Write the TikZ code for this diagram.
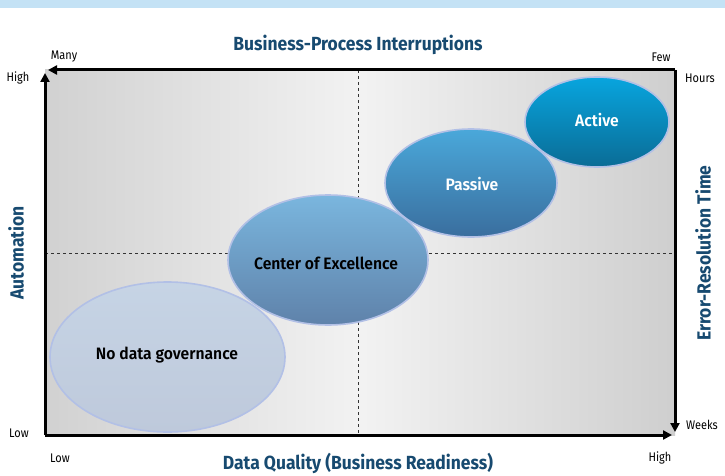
\documentclass[tikz,border=0pt]{standalone}
\usepackage{fontspec}
\setmainfont{Fira Sans}[FakeStretch=0.88]
\newfontfamily\boldcond{Fira Sans SemiBold}[FakeStretch=0.95]
\newfontfamily\boldtitle{Fira Sans Bold}[FakeStretch=0.92]
\usetikzlibrary{shapes.geometric,arrows.meta}
\definecolor{titleblue}{HTML}{174A70}
\definecolor{barblue}{HTML}{C4E2F5}
\definecolor{ndgtop}{RGB}{198,212,229}
\definecolor{ndgbot}{RGB}{190,201,219}
\definecolor{coetop}{RGB}{122,182,222}
\definecolor{coebot}{RGB}{95,130,170}
\definecolor{pastop}{RGB}{74,168,218}
\definecolor{pasbot}{RGB}{58,110,158}
\definecolor{acttop}{RGB}{8,165,222}
\definecolor{actbot}{RGB}{10,108,150}
\definecolor{rim}{RGB}{178,192,230}
\tikzset{
  axisline/.style={line width=3pt,-{Triangle[length=9pt,width=9pt]}},
  guide/.style={dashed,line width=0.6pt,black!80},
  blob/.style={ellipse,draw=rim,line width=1.6pt,inner sep=0pt},
  bloblabel/.style={font=\boldcond\fontsize{16.5}{19}\selectfont},
  small/.style={font=\fontsize{12.5}{14}\selectfont},
  axistitle/.style={font=\boldtitle\fontsize{19}{22}\selectfont,text=titleblue},
}
\begin{document}
\begin{tikzpicture}[x=1pt,y=1pt]
\useasboundingbox (0,0) rectangle (725,475);
\fill[white] (0,0) rectangle (725,475);
\fill[barblue] (0,467) rectangle (725,475);
% plot background
\shade[left color=black!18,right color=black!19,middle color=black!5] (45,40) rectangle (675,405);
% guides
\coordinate (vt) at (358,405); \coordinate (vb) at (358,40);
\coordinate (hl) at (45,222); \coordinate (hr) at (675,222);
\draw[guide] (vt) -- (vb);
\draw[guide] (hl) -- (hr);
% ellipses
\node[blob,minimum width=235pt,minimum height=150pt,top color=ndgtop,bottom color=ndgbot] (ndg) at (167.5,118) {};
\node[blob,minimum width=200pt,minimum height=130pt,top color=coetop,bottom color=coebot] (coe) at (328,215) {};
\node[blob,minimum width=172pt,minimum height=108pt,top color=pastop,bottom color=pasbot] (pas) at (471,292) {};
\node[blob,minimum width=144pt,minimum height=90pt,top color=acttop,bottom color=actbot] (act) at (597,353) {};
\node[bloblabel,text=black] (ndgt) at (167,120) {No data governance};
\node[bloblabel,text=black] (coet) at (326,212) {Center of Excellence};
\node[bloblabel,text=white] (past) at (472,291) {Passive};
\node[bloblabel,text=white] (actt) at (597,355) {Active};
% frame and axes
\coordinate (bl) at (45,40); \coordinate (tl) at (45,402);
\coordinate (tr) at (675,405); \coordinate (br) at (675,43);
\coordinate (rb) at (672,40); \coordinate (lt) at (48,405);
\draw[axisline] (bl) -- (tl);
\draw[axisline] (bl) -- (rb);
\draw[axisline] (tr) -- (lt);
\draw[axisline] (tr) -- (br);
% labels
\node[axistitle] (top) at (358,430) {Business-Process Interruptions};
\node[axistitle] (bot) at (358,12) {Data Quality (Business Readiness)};
\node[axistitle,rotate=90] (lefttitle) at (16,222) {Automation};
\node[axistitle,rotate=90] (righttitle) at (703,222) {Error-Resolution Time};
\node[small] (many) at (64,418) {Many};
\node[small] (few) at (661,418) {Few};
\node[small] (high1) at (18,397) {High};
\node[small] (hours) at (700,397) {Hours};
\node[small] (low1) at (19,42) {Low};
\node[small] (weeks) at (702,50) {Weeks};
\node[small] (low2) at (60,17) {Low};
\node[small] (high2) at (660,17) {High};
\end{tikzpicture}
\end{document}
